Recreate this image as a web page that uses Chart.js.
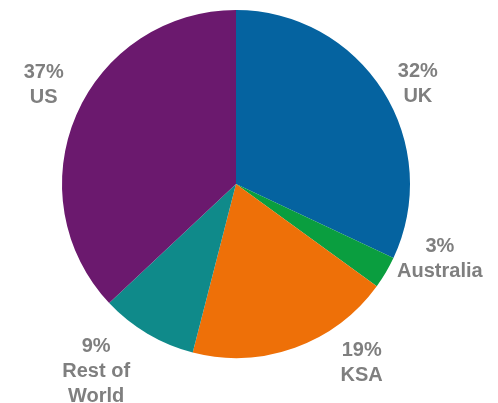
<!DOCTYPE html>
<html>
<head>
<meta charset="utf-8">
<script src="https://cdn.jsdelivr.net/npm/chart.js@4"></script>
<style>
  html, body { margin: 0; padding: 0; background: #ffffff; }
  #wrap { position: relative; width: 498px; height: 403px; }
</style>
</head>
<body>
<div id="wrap"><canvas id="c" width="498" height="403"></canvas></div>
<script>
// Share of total by market
const categories = ['UK', 'Australia', 'KSA', 'Rest of World', 'US'];
const shares = [32, 3, 19, 9, 37];
// Label text lines per slice (name part)
const nameLines = [['UK'], ['Australia'], ['KSA'], ['Rest of', 'World'], ['US']];
const sliceColors = ['#0563a0', '#0a9e3f', '#ee7008', '#0f8a8a', '#6b196e'];

// Draws "NN%" plus the market name outside each slice, along its mid-angle,
// with a small per-label nudge to keep the text clear of its neighbours
const outsideLabels = {
  id: 'outsideLabels',
  afterDatasetsDraw(chart, args, opts) {
    const ctx = chart.ctx;
    const meta = chart.getDatasetMeta(0);
    ctx.save();
    ctx.font = opts.font;
    ctx.fillStyle = opts.color;
    ctx.textAlign = 'center';
    ctx.textBaseline = 'middle';
    meta.data.forEach((arc, i) => {
      const p = arc.getProps(['x', 'y', 'startAngle', 'endAngle', 'outerRadius'], true);
      const mid = (p.startAngle + p.endAngle) / 2;
      const dx = Math.cos(mid), dy = Math.sin(mid);
      const lines = [shares[i] + '%'].concat(nameLines[i]);
      const w = Math.max(...lines.map(t => ctx.measureText(t).width));
      const h = lines.length * opts.lineHeight;
      const k = p.outerRadius + opts.gap + Math.abs(dx) * w / 2 + Math.abs(dy) * h / 2;
      const n = opts.nudge[i] || [0, 0];
      const cx = p.x + dx * k + n[0];
      const cy = p.y + dy * k + n[1];
      lines.forEach((t, j) => {
        ctx.fillText(t, cx, cy - h / 2 + opts.lineHeight * (j + 0.5));
      });
    });
    ctx.restore();
  }
};

new Chart(document.getElementById('c'), {
  type: 'pie',
  data: {
    labels: categories,
    datasets: [{
      data: shares,
      backgroundColor: sliceColors,
      borderWidth: 0,
      hoverOffset: 0
    }]
  },
  options: {
    responsive: false,
    animation: false,
    layout: { padding: { top: 10, bottom: 45, left: 0, right: 26 } },
    plugins: {
      legend: { display: false },
      tooltip: { enabled: false },
      title: { display: false },
      outsideLabels: {
        font: 'bold 20px "Liberation Sans", Arial, sans-serif',
        color: '#7f7f7f',
        lineHeight: 25,
        gap: 4,
        nudge: [[6, 12], [8, -41], [55, -17], [-24, -8], [-3, -17]]
      }
    }
  },
  plugins: [outsideLabels]
});
</script>
</body>
</html>
